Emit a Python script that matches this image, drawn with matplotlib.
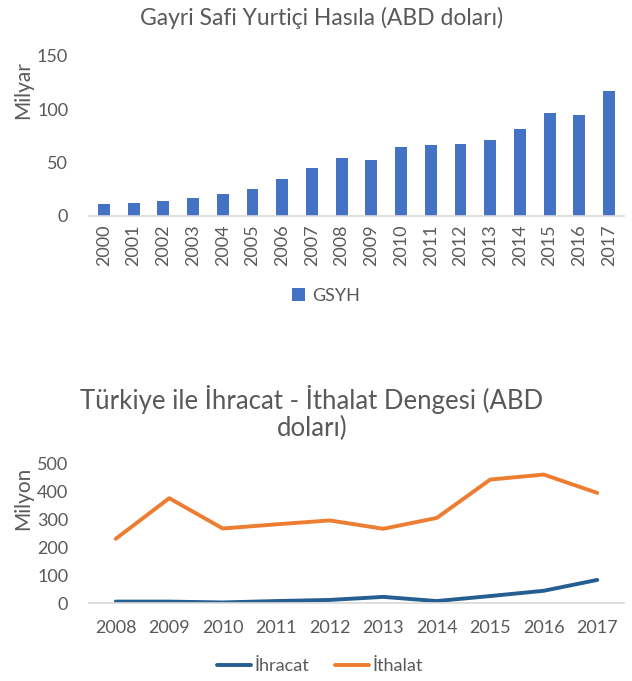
import matplotlib
matplotlib.use("Agg")
import matplotlib.pyplot as plt
import numpy as np

plt.rcParams['font.family'] = ['Lato', 'DejaVu Sans']

# GSYH (milyar ABD doları)
gdp_years = ['2000', '2001', '2002', '2003', '2004', '2005', '2006', '2007', '2008',
             '2009', '2010', '2011', '2012', '2013', '2014', '2015', '2016', '2017']
gdp_values = [11.6, 12.2, 13.8, 16.6, 20.3, 25.7, 35.0, 45.4, 54.1,
              52.5, 65.0, 66.3, 67.8, 71.6, 81.9, 96.6, 95.0, 116.9]

# dış ticaret (milyon ABD doları)
trade_years = ['2008', '2009', '2010', '2011', '2012', '2013', '2014', '2015', '2016', '2017']
ihracat = [5, 5, 2, 7, 11, 22, 7, 25, 44, 83]
ithalat = [231, 377, 268, 283, 297, 267, 306, 444, 462, 396]

gray = '#595959'
W, H = 632, 681
fig = plt.figure(figsize=(W / 100, H / 100), dpi=100)

def px_axes(left, top, right, bottom):
    return fig.add_axes([left / W, 1 - bottom / H, (right - left) / W, (bottom - top) / H])

def style(ax):
    for s in ['top', 'right', 'left']:
        ax.spines[s].set_visible(False)
    ax.spines['bottom'].set_color('#d9d9d9')
    ax.spines['bottom'].set_linewidth(1.2)
    ax.tick_params(length=0, colors=gray, labelsize=13)

# ---- üst grafik
ax1 = px_axes(89, 56, 624, 216)
x = np.arange(len(gdp_years))
ax1.bar(x, gdp_values, width=0.4, color='#4472C4', label='GSYH')
ax1.set_xlim(-0.5, len(gdp_years) - 0.5)
ax1.set_ylim(0, 150)
ax1.set_yticks([0, 50, 100, 150])
ax1.set_xticks(x)
ax1.set_xticklabels(gdp_years, rotation=90)
style(ax1)
ax1.tick_params(axis='y', pad=15)
ax1.tick_params(axis='x', pad=6)
ax1.set_ylabel('Milyar', color=gray, fontsize=15)
ax1.yaxis.set_label_coords(-0.105, 0.79)
fig.text(322 / W, 1 - 18 / H, 'Gayri Safi Yurtiçi Hasıla (ABD doları)', ha='center', va='center',
         fontsize=16.5, color=gray)
ax1.legend(loc='center', bbox_to_anchor=(326 / W, 1 - 296 / H), bbox_transform=fig.transFigure,
           frameon=False, fontsize=13, labelcolor=gray, handlelength=0.7, handleheight=0.7,
           handletextpad=0.4)

# ---- alt grafik
ax2 = px_axes(89, 464, 624, 603)
x2 = np.arange(len(trade_years))
ax2.plot(x2, ihracat, color='#255E91', lw=2.8, label='İhracat', solid_capstyle='round')
ax2.plot(x2, ithalat, color='#ED7D31', lw=2.8, label='İthalat', solid_capstyle='round')
ax2.set_xlim(-0.5, len(trade_years) - 0.5)
ax2.set_ylim(0, 500)
ax2.set_yticks([0, 100, 200, 300, 400, 500])
ax2.set_xticks(x2)
ax2.set_xticklabels(trade_years)
style(ax2)
ax2.tick_params(axis='y', pad=15)
ax2.tick_params(axis='x', pad=12)
ax2.set_ylabel('Milyon', color=gray, fontsize=15)
ax2.yaxis.set_label_coords(-0.105, 0.75)
fig.text(312 / W, 1 - 413 / H, 'Türkiye ile İhracat - İthalat Dengesi (ABD\ndoları)', ha='center',
         va='center', fontsize=18.5, color=gray, linespacing=1.1)
ax2.legend(loc='center', bbox_to_anchor=(320 / W, 1 - 666 / H), bbox_transform=fig.transFigure,
           frameon=False, fontsize=13, labelcolor=gray, ncol=2, handlelength=1.9,
           handletextpad=0.2, columnspacing=1.4)

fig.savefig('out.png', dpi=100)
